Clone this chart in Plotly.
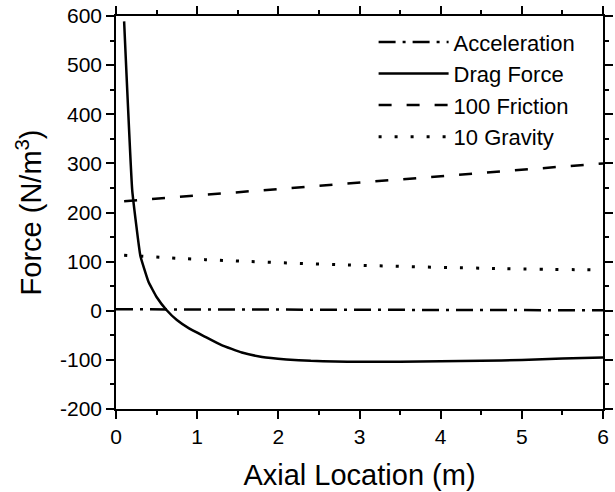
import plotly.graph_objects as go

# Data
x_acc = [0.0, 2.0, 4.0, 6.0]
y_acc = [3, 2, 2, 1]

x_drag = [0.1, 0.2, 0.3, 0.4, 0.5, 0.625, 0.75, 0.9, 1.1, 1.3, 1.55, 1.8, 2.1, 2.4, 2.7, 3.0, 3.5, 4.0, 4.5, 5.0, 5.5, 6.0]
y_drag = [589, 245, 112, 59, 28, 1, -19, -36, -53, -70, -85, -94, -99, -102, -103.5, -104, -104, -103, -102, -100, -97, -95]

x_fric = [0.1, 3.3, 6.0]
y_fric = [223, 264, 300]

x_grav = [0.1, 1.1, 2.9, 4.7, 6.0]
y_grav = [113, 104, 93, 86, 83]

names = ["Acceleration", "Drag Force", "100 Friction", "10 Gravity"]
x_ticks = [0, 1, 2, 3, 4, 5, 6]
y_ticks = [-200, -100, 0, 100, 200, 300, 400, 500, 600]

FONT = "Liberation Sans"

fig = go.Figure()
fig.add_trace(go.Scatter(x=x_acc, y=y_acc, mode="lines", name=names[0],
                         line=dict(color="black", width=2.5, dash="17px,7px,3px,7px")))
fig.add_trace(go.Scatter(x=x_drag, y=y_drag, mode="lines", name=names[1],
                         line=dict(color="black", width=2.5, shape="spline", smoothing=0.3)))
fig.add_trace(go.Scatter(x=x_fric, y=y_fric, mode="lines", name=names[2],
                         line=dict(color="black", width=2.5, dash="13px,15px")))
fig.add_trace(go.Scatter(x=x_grav, y=y_grav, mode="lines", name=names[3],
                         line=dict(color="black", width=3, dash="3px,13px", shape="spline")))

axis_common = dict(
    showgrid=False, zeroline=False, showline=True, linecolor="black", linewidth=1.5,
    mirror="ticks", ticks="outside", ticklen=8, tickwidth=1.5, tickcolor="black",
    tickfont=dict(family=FONT, size=21, color="black"), automargin=False,
)

fig.update_xaxes(range=[0, 6], tickvals=x_ticks, ticktext=[str(v) for v in x_ticks],
                 minor=dict(dtick=0.5, ticks="outside", ticklen=4, tickwidth=1.5, tickcolor="black"),
                 title=dict(text="Axial Location (m)", font=dict(family=FONT, size=29, color="black"),
                            standoff=18),
                 **axis_common)
fig.update_yaxes(range=[-200, 600], tickvals=y_ticks, ticktext=[str(v) for v in y_ticks],
                 minor=dict(dtick=50, ticks="outside", ticklen=4, tickwidth=1.5, tickcolor="black"),
                 title=dict(text="Force (N/m<sup>3</sup>)", font=dict(family=FONT, size=29, color="black"),
                            standoff=10),
                 **axis_common)

fig.update_layout(
    width=615, height=492,
    margin=dict(l=116, r=12, t=16, b=83),
    paper_bgcolor="white", plot_bgcolor="white",
    showlegend=True,
    legend=dict(x=0.954, y=0.987, xanchor="right", yanchor="top",
                bgcolor="rgba(0,0,0,0)", borderwidth=0,
                font=dict(family=FONT, size=22, color="black"),
                itemwidth=70, tracegroupgap=0),
)

fig.write_html("out.html")
